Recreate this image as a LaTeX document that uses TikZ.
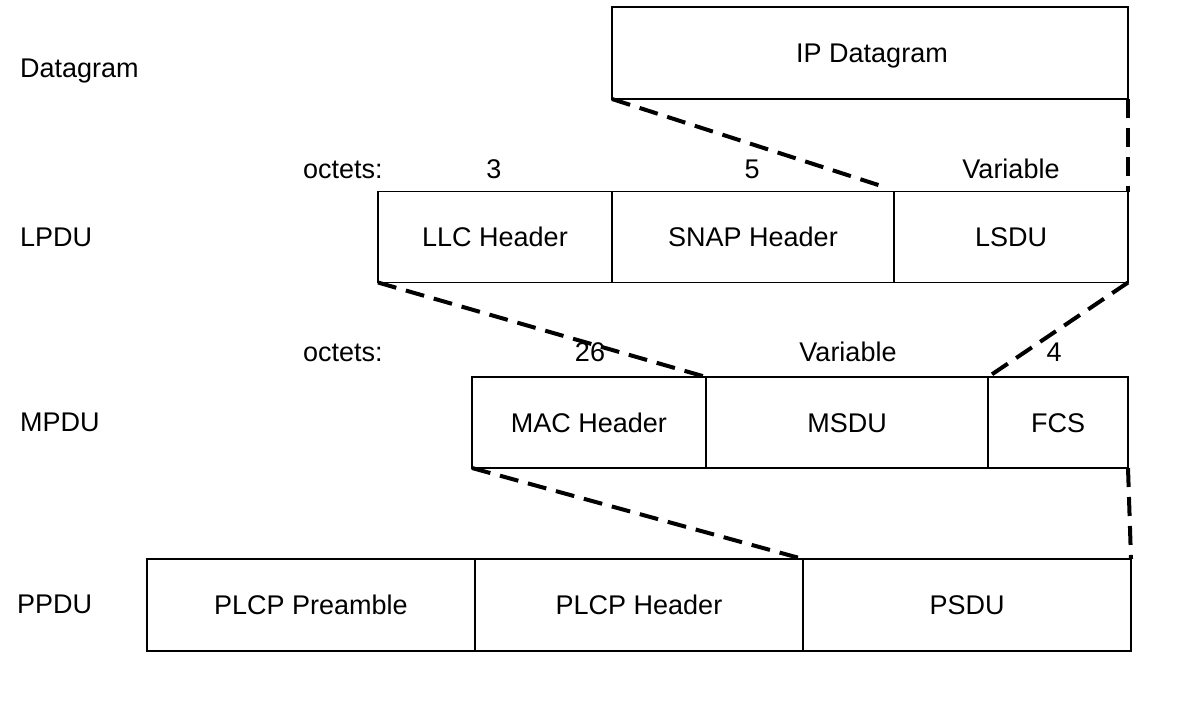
\documentclass[tikz,border=0pt]{standalone}
\usepackage{fontspec}
\setmainfont{Liberation Sans}
\begin{document}
\begin{tikzpicture}[x=1pt,y=-1pt,
  cell/.style={draw,line width=1.6pt,rectangle,inner sep=0pt,outer sep=0pt,
    font=\fontsize{27}{30}\selectfont,text height=19.3pt,text depth=0pt},
  lbl/.style={inner sep=0pt,font=\fontsize{27}{30}\selectfont,text height=19.3pt,text depth=0pt},
  conn/.style={line width=4pt,dash pattern=on 19pt off 10pt}]
\useasboundingbox (0,0) rectangle (1204,718);
% row labels
\node[lbl,anchor=west] (ldg) at (20,67.5) {Datagram};
\node[lbl,anchor=west] (llp) at (20,237) {LPDU};
\node[lbl,anchor=west] (lmp) at (20,422) {MPDU};
\node[lbl,anchor=west] (lpp) at (17,604) {PPDU};
% IP datagram
\node[cell,minimum width=516pt,minimum height=92pt] (ip) at (870,53) {};
\node[lbl] (iptxt) at (872,53) {IP Datagram};
% LPDU
\node[cell,minimum width=234pt,minimum height=91pt] (llc) at (495,237) {LLC Header};
\node[cell,minimum width=282pt,minimum height=91pt] (snap) at (753,237) {SNAP Header};
\node[cell,minimum width=234pt,minimum height=91pt] (lsdu) at (1011,237) {LSDU};
% MPDU
\node[cell,minimum width=234pt,minimum height=91pt] (mac) at (589,422.5) {MAC Header};
\node[cell,minimum width=282pt,minimum height=91pt] (msdu) at (847,422.5) {MSDU};
\node[cell,minimum width=140pt,minimum height=91pt] (fcs) at (1058,422.5) {FCS};
% PPDU
\node[cell,minimum width=328pt,minimum height=92pt] (pre) at (311,605) {PLCP Preamble};
\node[cell,minimum width=328pt,minimum height=92pt] (phd) at (639,605) {PLCP Header};
\node[cell,minimum width=328pt,minimum height=92pt] (psdu) at (967,605) {PSDU};
% octet labels
\node[lbl,anchor=west] (oc1) at (303,169) {octets:};
\node[lbl] (n3) at (494,169) {3};
\node[lbl] (n5) at (752,169) {5};
\node[lbl] (nv1) at (1011,169) {Variable};
\node[lbl,anchor=west] (oc2) at (303,352) {octets:};
\node[lbl] (n26) at (590,352) {26};
\node[lbl] (nv2) at (848,352) {Variable};
\node[lbl] (n4) at (1054,352) {4};
% connectors
\draw[conn] (ip.south west) -- ([xshift=-8pt,yshift=4pt]lsdu.north west);
\draw[conn] (ip.south east) -- (lsdu.north east);
\draw[conn] (llc.south west) -- (mac.north east);
\draw[conn] (lsdu.south east) -- (fcs.north west);
\draw[conn] (mac.south west) -- (psdu.north west);
\draw[conn] (fcs.south east) -- (psdu.north east);
\end{tikzpicture}
\end{document}
